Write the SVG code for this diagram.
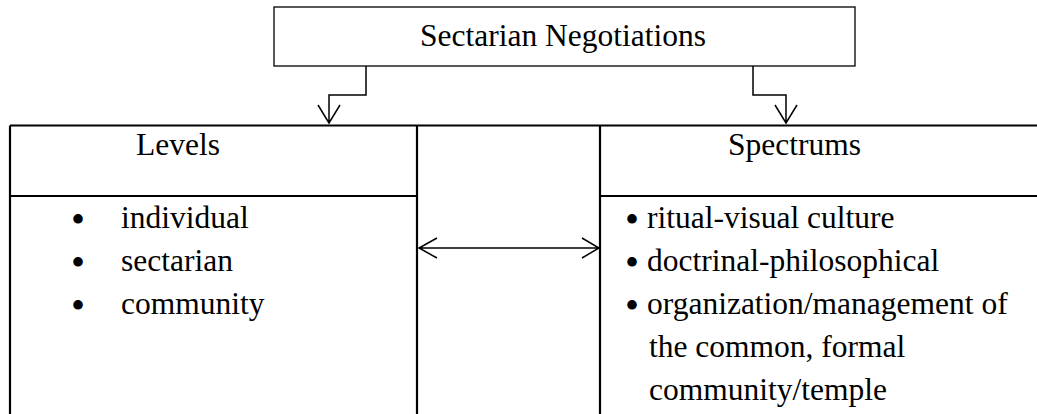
<svg xmlns="http://www.w3.org/2000/svg" width="1037" height="414" viewBox="0 0 1037 414">
<style>
text{font-family:"Liberation Serif","Times New Roman",serif;font-size:31.5px;fill:#000}
text.b{font-size:40px;text-anchor:middle}
.box{fill:#fff;stroke:#000;stroke-width:1.3}
.tbl{stroke:#000;stroke-width:2.2;fill:none}
.con{stroke:#000;stroke-width:1.5;fill:none}
</style>
<rect width="1037" height="414" fill="#fff"/>
<g id="title">
<rect class="box" x="274" y="7" width="581" height="59"/>
<text x="420" y="46">Sectarian Negotiations</text>
</g>
<g id="levels">
<path class="tbl" d="M10 125.5H417M10 125.5V414M417 125.5V414M10 196H417"/>
<text x="136" y="155">Levels</text>
<text class="b" x="78" y="233">•</text><text x="121" y="228">individual</text>
<text class="b" x="78" y="276">•</text><text x="121" y="271">sectarian</text>
<text class="b" x="78" y="319">•</text><text x="121" y="314">community</text>
</g>
<g id="middle">
<path class="tbl" d="M417 125.5H600M600 125.5V414"/>
</g>
<g id="spectrums">
<path class="tbl" d="M600 125.5H1037M600 196H1037"/>
<text x="728" y="155">Spectrums</text>
<text class="b" x="632" y="233">•</text><text x="647" y="228">ritual-visual culture</text>
<text class="b" x="632" y="276">•</text><text x="647" y="271">doctrinal-philosophical</text>
<text class="b" x="632" y="319">•</text><text x="647" y="314">organization/management of</text>
<text x="649" y="357">the common, formal</text>
<text x="649" y="400">community/temple</text>
</g>
<g id="connectors">
<path class="con" d="M366 66V95H329V123M318 105L329 123L340 105"/>
<path class="con" d="M753 66V95H786V123M775 105L786 123L797 105"/>
<path class="con" d="M419 248H599M437 238L419 248L437 258M582 238L599 248L582 258"/>
</g>
</svg>
